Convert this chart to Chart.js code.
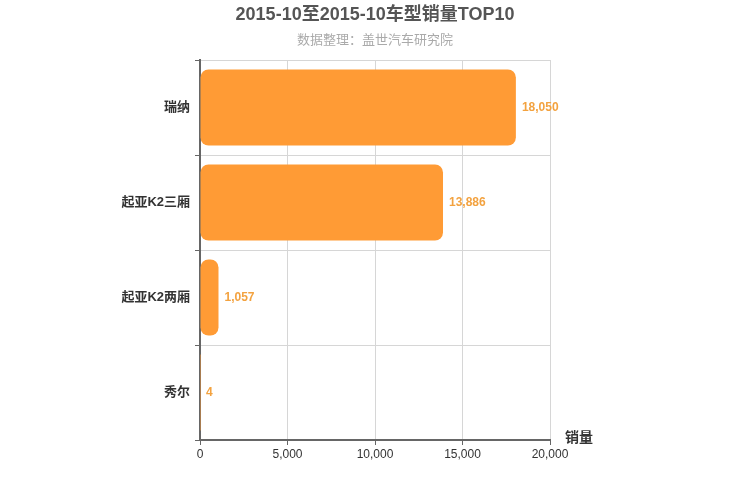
<!DOCTYPE html>
<html>
<head>
    <title>车型销量TOP10</title>
    <script src="https://cdn.jsdelivr.net/npm/chart.js"></script>
    <style>
        body { margin: 0; background: #fff; }
    </style>
</head>
<body>
    <canvas id="salesChart" width="750" height="500"></canvas>

    <script>
        const models = ['瑞纳', '起亚K2三厢', '起亚K2两厢', '秀尔'];
        const sales = [18050, 13886, 1057, 4];
        const xTicks = [0, 5000, 10000, 15000, 20000];

        const FONT = '"Liberation Sans", "Noto Sans CJK SC", sans-serif';

        // value labels at the end of each bar, plus the axis name at the right
        const extras = {
            id: 'extras',
            afterDatasetsDraw(chart) {
                const ctx = chart.ctx;
                const meta = chart.getDatasetMeta(0);
                ctx.save();
                ctx.font = 'bold 12px ' + FONT;
                ctx.fillStyle = '#f3a23f';
                ctx.textAlign = 'left';
                ctx.textBaseline = 'middle';
                meta.data.forEach((bar, i) => {
                    ctx.fillText(sales[i].toLocaleString('en-US'), bar.x + 6, bar.y);
                });
                const area = chart.chartArea;
                ctx.font = 'bold 14px ' + FONT;
                ctx.fillStyle = '#333';
                ctx.fillText('销量', area.right + 15, area.bottom - 2);
                ctx.restore();
            }
        };

        const ctx = document.getElementById('salesChart').getContext('2d');
        new Chart(ctx, {
            type: 'bar',
            data: {
                labels: models,
                datasets: [{
                    label: '销量',
                    data: sales,
                    backgroundColor: '#ff9b35',
                    borderRadius: 8,
                    borderSkipped: false,
                    barPercentage: 0.8,
                    categoryPercentage: 1
                }]
            },
            options: {
                indexAxis: 'y',
                responsive: false,
                animation: false,
                layout: { padding: 0 },
                plugins: {
                    legend: { display: false },
                    tooltip: { enabled: false },
                    title: {
                        display: true,
                        text: '2015-10至2015-10车型销量TOP10',
                        color: '#555',
                        font: { family: FONT, size: 18, weight: 'bold' },
                        padding: { top: 4, bottom: 6.6 }
                    },
                    subtitle: {
                        display: true,
                        text: '数据整理：盖世汽车研究院',
                        color: '#aaa',
                        font: { family: FONT, size: 13 },
                        padding: { top: 0, bottom: 12.2 }
                    }
                },
                scales: {
                    x: {
                        min: 0,
                        max: 20000,
                        afterBuildTicks: scale => {
                            scale.ticks = xTicks.map(v => ({ value: v }));
                        },
                        afterFit: scale => { scale.height = 60; },
                        border: { color: '#666', width: 2 },
                        grid: { color: '#d6d6d6', tickColor: '#666', tickLength: 5 },
                        ticks: {
                            color: '#333',
                            font: { family: FONT, size: 12 },
                            padding: 2,
                            callback: v => v.toLocaleString('en-US')
                        }
                    },
                    y: {
                        afterFit: scale => { scale.width = 200; },
                        border: { color: '#666', width: 2 },
                        grid: { color: '#d6d6d6', tickColor: '#666', tickLength: 5, offset: true },
                        ticks: {
                            color: '#333',
                            font: { family: FONT, size: 13, weight: 'bold' },
                            padding: 5
                        }
                    },
                    // empty right-hand axis that only reserves space, so the titles stay centred on the page
                    yRight: {
                        position: 'right',
                        afterFit: scale => { scale.width = 200; },
                        border: { display: false },
                        grid: { display: false },
                        ticks: { display: false }
                    }
                }
            },
            plugins: [extras]
        });
    </script>
</body>
</html>
